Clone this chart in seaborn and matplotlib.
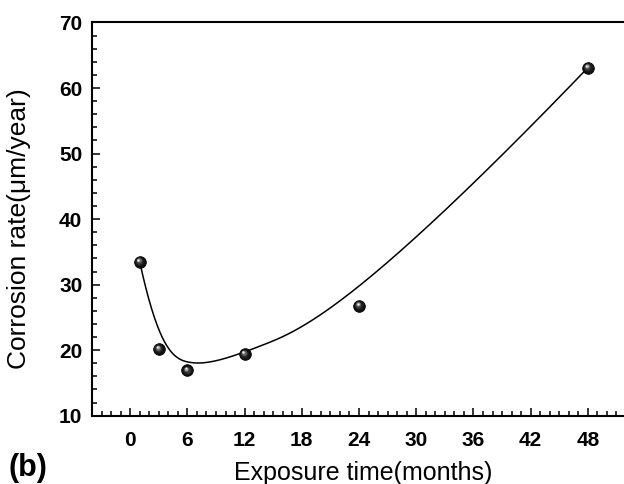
import numpy as np
import pandas as pd
import matplotlib
matplotlib.use("Agg")
import matplotlib.pyplot as plt
from matplotlib.transforms import offset_copy
from matplotlib.ticker import MultipleLocator
import seaborn as sns

# ---- data ----
months = [1, 3, 6, 12, 24, 48]
rate = [33.5, 20.2, 16.9, 19.4, 26.8, 63.1]
x_ticks = [0, 6, 12, 18, 24, 30, 36, 42, 48]
y_ticks = [10, 20, 30, 40, 50, 60, 70]
x_label = "Exposure time(months)"
y_label = "Corrosion rate(\u03bcm/year)"
panel = "(b)"

sns.set_theme(style="ticks")
plt.rcParams["font.family"] = ["Liberation Sans", "DejaVu Sans"]
plt.rcParams["text.color"] = "black"
plt.rcParams["axes.labelcolor"] = "black"

df = pd.DataFrame({"months": months, "rate": rate})

# clamped cubic B-spline using the data points as control points (Origin "B-spline")
def bspline(px, py, deg=3, num=400):
    P = np.column_stack([px, py]).astype(float)
    n = len(P)
    inner = np.arange(1, n - deg)
    knots = np.concatenate([np.zeros(deg + 1), inner, np.full(deg + 1, n - deg)])
    u = np.linspace(0, n - deg - 1e-9, num)

    def N(i, k, u):
        if k == 0:
            return np.where((knots[i] <= u) & (u < knots[i + 1]), 1.0, 0.0)
        out = np.zeros_like(u)
        d1 = knots[i + k] - knots[i]
        d2 = knots[i + k + 1] - knots[i + 1]
        if d1 > 0:
            out += (u - knots[i]) / d1 * N(i, k - 1, u)
        if d2 > 0:
            out += (knots[i + k + 1] - u) / d2 * N(i + 1, k - 1, u)
        return out

    B = np.array([N(i, deg, u) for i in range(n)])
    C = B.T @ P
    return C[:, 0], C[:, 1]

cx, cy = bspline(months, rate)
curve = pd.DataFrame({"x": cx, "y": cy})

fig = plt.figure(figsize=(6.24, 4.84), dpi=100)
ax = fig.add_axes([92 / 624, 1 - 415.7 / 484, (626 - 92) / 624, (415.7 - 22.5) / 484])

sns.lineplot(data=curve, x="x", y="y", sort=False, estimator=None,
             color="black", linewidth=1.1, ax=ax, zorder=2)

# sphere-like markers
sns.scatterplot(data=df, x="months", y="rate", s=70, color="#101010",
                edgecolor="black", linewidth=0.6, ax=ax, zorder=3)
layers = [(0.75, "#1e1e1e", 0.3), (0.55, "#3a3a3a", 0.6), (0.4, "#6a6a6a", 0.9),
          (0.27, "#a8a8a8", 1.2), (0.15, "#f4f4f4", 1.5)]
for frac, col, off in layers:
    tr = offset_copy(ax.transData, fig=fig, x=-off * 1.0, y=off * 1.4, units="dots")
    ax.scatter(months, rate, s=70 * frac ** 2, color=col, linewidths=0,
               transform=tr, zorder=4)

ax.set_xlim(-4, 52)
ax.set_ylim(10, 70)
ax.set_xticks(x_ticks)
ax.set_yticks(y_ticks)
ax.xaxis.set_minor_locator(MultipleLocator(1))
ax.yaxis.set_minor_locator(MultipleLocator(2))
ax.tick_params(which="both", direction="in", width=1.1, colors="black",
               labelcolor="black")
ax.tick_params(which="major", length=6)
ax.tick_params(which="minor", length=3.5)
ax.tick_params(axis="x", which="major", pad=11)
ax.tick_params(axis="y", which="major", pad=7)
for lab in ax.get_xticklabels() + ax.get_yticklabels():
    lab.set_fontweight("bold")
    lab.set_fontsize(15)

for side in ["left", "bottom", "top"]:
    ax.spines[side].set_linewidth(1.5)
    ax.spines[side].set_color("black")
ax.spines["right"].set_visible(False)

ax.set_xlabel(x_label, fontsize=18)
ax.set_ylabel(y_label, fontsize=19)
ax.xaxis.set_label_coords(0.508, -0.115)
ax.yaxis.set_label_coords(-0.114, 0.475)

fig.text(8 / 624, 1 - 476 / 484, panel, fontsize=22, fontweight="bold",
         ha="left", va="baseline")

fig.savefig("out.png", dpi=100, facecolor="white")
